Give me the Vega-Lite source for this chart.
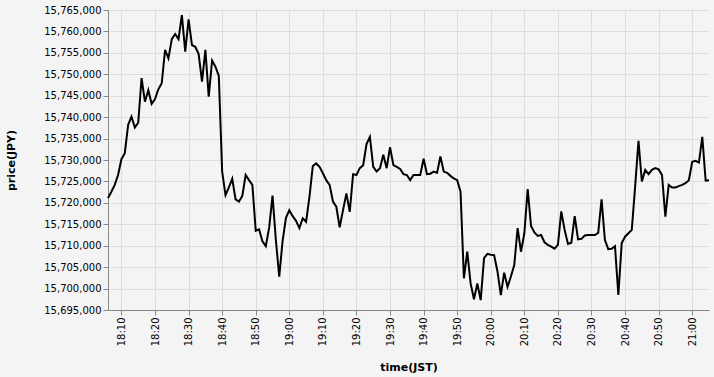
{
  "$schema": "https://vega.github.io/schema/vega-lite/v6.json",
  "width": 601,
  "height": 300,
  "background": "#f4f4f4",
  "config": {
    "view": {"stroke": null},
    "font": "DejaVu Sans",
    "axis": {"labelFontSize": 10, "titleFontSize": 11, "titleFontWeight": "bold", "gridColor": "#dddddd", "domainColor": "#888888", "tickColor": "#888888", "labelColor": "#000000", "titleColor": "#000000"}
  },
  "data": {
    "values": [
      {"t": "2024-01-01T18:06:00", "p": 15721100},
      {"t": "2024-01-01T18:07:00", "p": 15722600},
      {"t": "2024-01-01T18:08:00", "p": 15724200},
      {"t": "2024-01-01T18:09:00", "p": 15726500},
      {"t": "2024-01-01T18:10:00", "p": 15730200},
      {"t": "2024-01-01T18:11:00", "p": 15731600},
      {"t": "2024-01-01T18:12:00", "p": 15738200},
      {"t": "2024-01-01T18:13:00", "p": 15740100},
      {"t": "2024-01-01T18:14:00", "p": 15737600},
      {"t": "2024-01-01T18:15:00", "p": 15738700},
      {"t": "2024-01-01T18:16:00", "p": 15749100},
      {"t": "2024-01-01T18:17:00", "p": 15743600},
      {"t": "2024-01-01T18:18:00", "p": 15746300},
      {"t": "2024-01-01T18:19:00", "p": 15743100},
      {"t": "2024-01-01T18:20:00", "p": 15744200},
      {"t": "2024-01-01T18:21:00", "p": 15746500},
      {"t": "2024-01-01T18:22:00", "p": 15747900},
      {"t": "2024-01-01T18:23:00", "p": 15755700},
      {"t": "2024-01-01T18:24:00", "p": 15753700},
      {"t": "2024-01-01T18:25:00", "p": 15758200},
      {"t": "2024-01-01T18:26:00", "p": 15759400},
      {"t": "2024-01-01T18:27:00", "p": 15758200},
      {"t": "2024-01-01T18:28:00", "p": 15763800},
      {"t": "2024-01-01T18:29:00", "p": 15755300},
      {"t": "2024-01-01T18:30:00", "p": 15762800},
      {"t": "2024-01-01T18:31:00", "p": 15756800},
      {"t": "2024-01-01T18:32:00", "p": 15756400},
      {"t": "2024-01-01T18:33:00", "p": 15754700},
      {"t": "2024-01-01T18:34:00", "p": 15748300},
      {"t": "2024-01-01T18:35:00", "p": 15755700},
      {"t": "2024-01-01T18:36:00", "p": 15744800},
      {"t": "2024-01-01T18:37:00", "p": 15753200},
      {"t": "2024-01-01T18:38:00", "p": 15751800},
      {"t": "2024-01-01T18:39:00", "p": 15749600},
      {"t": "2024-01-01T18:40:00", "p": 15727300},
      {"t": "2024-01-01T18:41:00", "p": 15721800},
      {"t": "2024-01-01T18:42:00", "p": 15723600},
      {"t": "2024-01-01T18:43:00", "p": 15725600},
      {"t": "2024-01-01T18:44:00", "p": 15720800},
      {"t": "2024-01-01T18:45:00", "p": 15720300},
      {"t": "2024-01-01T18:46:00", "p": 15721600},
      {"t": "2024-01-01T18:47:00", "p": 15726500},
      {"t": "2024-01-01T18:48:00", "p": 15725300},
      {"t": "2024-01-01T18:49:00", "p": 15724200},
      {"t": "2024-01-01T18:50:00", "p": 15713500},
      {"t": "2024-01-01T18:51:00", "p": 15713800},
      {"t": "2024-01-01T18:52:00", "p": 15711000},
      {"t": "2024-01-01T18:53:00", "p": 15709900},
      {"t": "2024-01-01T18:54:00", "p": 15714200},
      {"t": "2024-01-01T18:55:00", "p": 15721700},
      {"t": "2024-01-01T18:56:00", "p": 15711300},
      {"t": "2024-01-01T18:57:00", "p": 15702800},
      {"t": "2024-01-01T18:58:00", "p": 15711100},
      {"t": "2024-01-01T18:59:00", "p": 15716500},
      {"t": "2024-01-01T19:00:00", "p": 15718300},
      {"t": "2024-01-01T19:01:00", "p": 15716900},
      {"t": "2024-01-01T19:02:00", "p": 15715800},
      {"t": "2024-01-01T19:03:00", "p": 15714100},
      {"t": "2024-01-01T19:04:00", "p": 15716400},
      {"t": "2024-01-01T19:05:00", "p": 15715600},
      {"t": "2024-01-01T19:06:00", "p": 15721400},
      {"t": "2024-01-01T19:07:00", "p": 15728600},
      {"t": "2024-01-01T19:08:00", "p": 15729200},
      {"t": "2024-01-01T19:09:00", "p": 15728400},
      {"t": "2024-01-01T19:10:00", "p": 15726900},
      {"t": "2024-01-01T19:11:00", "p": 15725300},
      {"t": "2024-01-01T19:12:00", "p": 15724200},
      {"t": "2024-01-01T19:13:00", "p": 15720300},
      {"t": "2024-01-01T19:14:00", "p": 15719100},
      {"t": "2024-01-01T19:15:00", "p": 15714300},
      {"t": "2024-01-01T19:16:00", "p": 15718300},
      {"t": "2024-01-01T19:17:00", "p": 15722200},
      {"t": "2024-01-01T19:18:00", "p": 15717900},
      {"t": "2024-01-01T19:19:00", "p": 15726700},
      {"t": "2024-01-01T19:20:00", "p": 15726500},
      {"t": "2024-01-01T19:21:00", "p": 15728100},
      {"t": "2024-01-01T19:22:00", "p": 15728800},
      {"t": "2024-01-01T19:23:00", "p": 15733700},
      {"t": "2024-01-01T19:24:00", "p": 15735400},
      {"t": "2024-01-01T19:25:00", "p": 15728400},
      {"t": "2024-01-01T19:26:00", "p": 15727300},
      {"t": "2024-01-01T19:27:00", "p": 15728100},
      {"t": "2024-01-01T19:28:00", "p": 15731200},
      {"t": "2024-01-01T19:29:00", "p": 15728100},
      {"t": "2024-01-01T19:30:00", "p": 15733000},
      {"t": "2024-01-01T19:31:00", "p": 15728800},
      {"t": "2024-01-01T19:32:00", "p": 15728400},
      {"t": "2024-01-01T19:33:00", "p": 15727900},
      {"t": "2024-01-01T19:34:00", "p": 15726700},
      {"t": "2024-01-01T19:35:00", "p": 15726500},
      {"t": "2024-01-01T19:36:00", "p": 15725300},
      {"t": "2024-01-01T19:37:00", "p": 15726500},
      {"t": "2024-01-01T19:38:00", "p": 15726500},
      {"t": "2024-01-01T19:39:00", "p": 15726500},
      {"t": "2024-01-01T19:40:00", "p": 15730300},
      {"t": "2024-01-01T19:41:00", "p": 15726700},
      {"t": "2024-01-01T19:42:00", "p": 15726800},
      {"t": "2024-01-01T19:43:00", "p": 15727300},
      {"t": "2024-01-01T19:44:00", "p": 15727000},
      {"t": "2024-01-01T19:45:00", "p": 15730800},
      {"t": "2024-01-01T19:46:00", "p": 15727300},
      {"t": "2024-01-01T19:47:00", "p": 15727000},
      {"t": "2024-01-01T19:48:00", "p": 15726300},
      {"t": "2024-01-01T19:49:00", "p": 15725700},
      {"t": "2024-01-01T19:50:00", "p": 15725300},
      {"t": "2024-01-01T19:51:00", "p": 15722600},
      {"t": "2024-01-01T19:52:00", "p": 15702400},
      {"t": "2024-01-01T19:53:00", "p": 15708600},
      {"t": "2024-01-01T19:54:00", "p": 15701200},
      {"t": "2024-01-01T19:55:00", "p": 15697500},
      {"t": "2024-01-01T19:56:00", "p": 15701200},
      {"t": "2024-01-01T19:57:00", "p": 15697300},
      {"t": "2024-01-01T19:58:00", "p": 15707100},
      {"t": "2024-01-01T19:59:00", "p": 15708100},
      {"t": "2024-01-01T20:00:00", "p": 15707900},
      {"t": "2024-01-01T20:01:00", "p": 15707800},
      {"t": "2024-01-01T20:02:00", "p": 15704000},
      {"t": "2024-01-01T20:03:00", "p": 15698500},
      {"t": "2024-01-01T20:04:00", "p": 15703700},
      {"t": "2024-01-01T20:05:00", "p": 15700400},
      {"t": "2024-01-01T20:06:00", "p": 15702800},
      {"t": "2024-01-01T20:07:00", "p": 15705500},
      {"t": "2024-01-01T20:08:00", "p": 15714100},
      {"t": "2024-01-01T20:09:00", "p": 15708600},
      {"t": "2024-01-01T20:10:00", "p": 15712900},
      {"t": "2024-01-01T20:11:00", "p": 15723200},
      {"t": "2024-01-01T20:12:00", "p": 15714600},
      {"t": "2024-01-01T20:13:00", "p": 15713100},
      {"t": "2024-01-01T20:14:00", "p": 15712300},
      {"t": "2024-01-01T20:15:00", "p": 15712500},
      {"t": "2024-01-01T20:16:00", "p": 15710800},
      {"t": "2024-01-01T20:17:00", "p": 15710200},
      {"t": "2024-01-01T20:18:00", "p": 15709800},
      {"t": "2024-01-01T20:19:00", "p": 15709300},
      {"t": "2024-01-01T20:20:00", "p": 15710200},
      {"t": "2024-01-01T20:21:00", "p": 15718000},
      {"t": "2024-01-01T20:22:00", "p": 15713700},
      {"t": "2024-01-01T20:23:00", "p": 15710400},
      {"t": "2024-01-01T20:24:00", "p": 15710700},
      {"t": "2024-01-01T20:25:00", "p": 15716900},
      {"t": "2024-01-01T20:26:00", "p": 15711500},
      {"t": "2024-01-01T20:27:00", "p": 15711600},
      {"t": "2024-01-01T20:28:00", "p": 15712400},
      {"t": "2024-01-01T20:29:00", "p": 15712500},
      {"t": "2024-01-01T20:30:00", "p": 15712500},
      {"t": "2024-01-01T20:31:00", "p": 15712500},
      {"t": "2024-01-01T20:32:00", "p": 15713000},
      {"t": "2024-01-01T20:33:00", "p": 15720800},
      {"t": "2024-01-01T20:34:00", "p": 15711300},
      {"t": "2024-01-01T20:35:00", "p": 15709200},
      {"t": "2024-01-01T20:36:00", "p": 15709300},
      {"t": "2024-01-01T20:37:00", "p": 15709900},
      {"t": "2024-01-01T20:38:00", "p": 15698500},
      {"t": "2024-01-01T20:39:00", "p": 15710600},
      {"t": "2024-01-01T20:40:00", "p": 15712100},
      {"t": "2024-01-01T20:41:00", "p": 15712900},
      {"t": "2024-01-01T20:42:00", "p": 15713700},
      {"t": "2024-01-01T20:43:00", "p": 15723800},
      {"t": "2024-01-01T20:44:00", "p": 15734500},
      {"t": "2024-01-01T20:45:00", "p": 15725000},
      {"t": "2024-01-01T20:46:00", "p": 15727700},
      {"t": "2024-01-01T20:47:00", "p": 15726700},
      {"t": "2024-01-01T20:48:00", "p": 15727700},
      {"t": "2024-01-01T20:49:00", "p": 15728100},
      {"t": "2024-01-01T20:50:00", "p": 15727800},
      {"t": "2024-01-01T20:51:00", "p": 15726500},
      {"t": "2024-01-01T20:52:00", "p": 15716800},
      {"t": "2024-01-01T20:53:00", "p": 15724200},
      {"t": "2024-01-01T20:54:00", "p": 15723600},
      {"t": "2024-01-01T20:55:00", "p": 15723600},
      {"t": "2024-01-01T20:56:00", "p": 15723900},
      {"t": "2024-01-01T20:57:00", "p": 15724200},
      {"t": "2024-01-01T20:58:00", "p": 15724600},
      {"t": "2024-01-01T20:59:00", "p": 15725300},
      {"t": "2024-01-01T21:00:00", "p": 15729600},
      {"t": "2024-01-01T21:01:00", "p": 15729800},
      {"t": "2024-01-01T21:02:00", "p": 15729400},
      {"t": "2024-01-01T21:03:00", "p": 15735400},
      {"t": "2024-01-01T21:04:00", "p": 15725200},
      {"t": "2024-01-01T21:05:00", "p": 15725300}
    ]
  },
  "mark": {"type": "line", "color": "#000000", "strokeWidth": 2},
  "encoding": {
    "x": {
      "field": "t",
      "type": "temporal",
      "title": "time(JST)",
      "axis": {
        "format": "%H:%M",
        "labelAngle": -90,
        "titlePadding": 16,
        "values": [
          {"year": 2024, "month": 1, "date": 1, "hours": 18, "minutes": 10},
          {"year": 2024, "month": 1, "date": 1, "hours": 18, "minutes": 20},
          {"year": 2024, "month": 1, "date": 1, "hours": 18, "minutes": 30},
          {"year": 2024, "month": 1, "date": 1, "hours": 18, "minutes": 40},
          {"year": 2024, "month": 1, "date": 1, "hours": 18, "minutes": 50},
          {"year": 2024, "month": 1, "date": 1, "hours": 19, "minutes": 0},
          {"year": 2024, "month": 1, "date": 1, "hours": 19, "minutes": 10},
          {"year": 2024, "month": 1, "date": 1, "hours": 19, "minutes": 20},
          {"year": 2024, "month": 1, "date": 1, "hours": 19, "minutes": 30},
          {"year": 2024, "month": 1, "date": 1, "hours": 19, "minutes": 40},
          {"year": 2024, "month": 1, "date": 1, "hours": 19, "minutes": 50},
          {"year": 2024, "month": 1, "date": 1, "hours": 20, "minutes": 0},
          {"year": 2024, "month": 1, "date": 1, "hours": 20, "minutes": 10},
          {"year": 2024, "month": 1, "date": 1, "hours": 20, "minutes": 20},
          {"year": 2024, "month": 1, "date": 1, "hours": 20, "minutes": 30},
          {"year": 2024, "month": 1, "date": 1, "hours": 20, "minutes": 40},
          {"year": 2024, "month": 1, "date": 1, "hours": 20, "minutes": 50},
          {"year": 2024, "month": 1, "date": 1, "hours": 21, "minutes": 0}
        ]
      }
    },
    "y": {
      "field": "p",
      "type": "quantitative",
      "title": "price(JPY)",
      "scale": {"domain": [15695000, 15765000], "nice": false, "zero": false},
      "axis": {"format": ",d", "values": [15695000, 15700000, 15705000, 15710000, 15715000, 15720000, 15725000, 15730000, 15735000, 15740000, 15745000, 15750000, 15755000, 15760000, 15765000], "titlePadding": 27}
    }
  }
}
